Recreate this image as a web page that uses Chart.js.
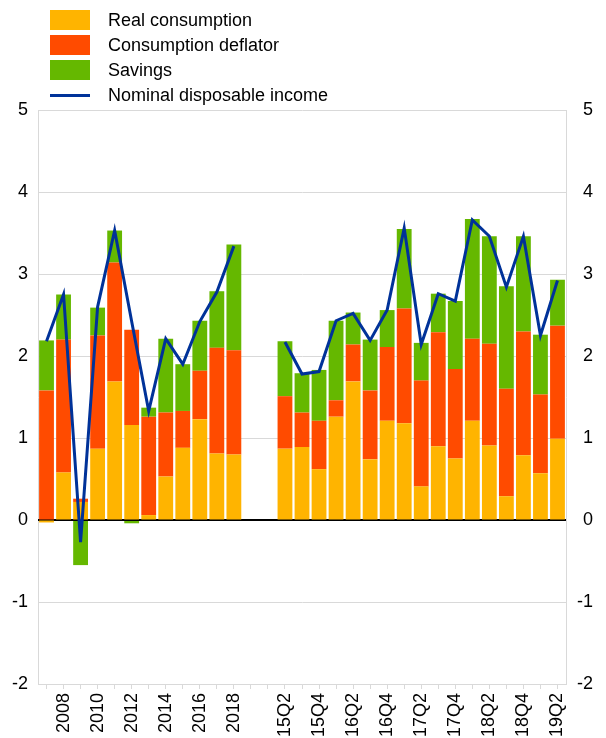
<!DOCTYPE html>
<html>
<head>
<meta charset="utf-8">
<script src="https://cdn.jsdelivr.net/npm/chart.js@4/dist/chart.umd.min.js"></script>
<style>
  body { margin: 0; background: #fff; }
  #wrap { position: relative; width: 606px; height: 738px; }
  #legend { position: absolute; left: 50px; top: 10px; font: 18px "Liberation Sans", Arial, sans-serif; color: #000; }
  .item { position: relative; height: 25px; }
  .swatch { position: absolute; left: 0; top: 0; width: 40px; height: 20px; }
  .swatch.line { top: 9px; height: 3px; }
  .label { position: absolute; left: 58px; top: 0; line-height: 20px; white-space: nowrap; }
</style>
</head>
<body>
<div id="wrap">
  <canvas id="chart" width="606" height="738"></canvas>
  <div id="legend"></div>
</div>
<script>
"use strict"

// år och kvartal, med två tomma platser emellan
const years = ['2007', '2008', '2009', '2010', '2011', '2012', '2013', '2014', '2015', '2016', '2017', '2018']
const quarters = ['15Q2', '15Q3', '15Q4', '16Q1', '16Q2', '16Q3', '16Q4', '17Q1', '17Q2', '17Q3', '17Q4', '18Q1', '18Q2', '18Q3', '18Q4', '19Q1', '19Q2']
const gap = ['', '']

// etiketter som syns på x-axeln
const tickLabels = ['2008', '2010', '2012', '2014', '2016', '2018', '15Q2', '15Q4', '16Q2', '16Q4', '17Q2', '17Q4', '18Q2', '18Q4', '19Q2']

// årsvärden
const realYear = [-0.03, 0.58, 0.22, 0.87, 1.69, 1.16, 0.06, 0.53, 0.88, 1.23, 0.81, 0.80]
const deflYear = [1.58, 1.62, 0.04, 1.38, 1.45, 1.16, 1.20, 0.78, 0.45, 0.59, 1.29, 1.27]
const saveYear = [0.61, 0.55, -0.55, 0.34, 0.39, -0.04, 0.11, 0.90, 0.57, 0.61, 0.69, 1.29]
const incomeYear = [2.18, 2.75, -0.27, 2.60, 3.53, 2.42, 1.33, 2.21, 1.90, 2.42, 2.78, 3.34]

// kvartalsvärden
const realQ = [0.87, 0.89, 0.62, 1.26, 1.69, 0.74, 1.21, 1.18, 0.41, 0.90, 0.75, 1.21, 0.91, 0.29, 0.79, 0.57, 0.99]
const deflQ = [0.64, 0.42, 0.59, 0.20, 0.45, 0.84, 0.90, 1.40, 1.29, 1.39, 1.09, 1.00, 1.24, 1.31, 1.51, 0.96, 1.38]
const saveQ = [0.67, 0.48, 0.62, 0.97, 0.39, 0.62, 0.45, 0.97, 0.46, 0.47, 0.83, 1.46, 1.31, 1.25, 1.16, 0.73, 0.56]
const incomeQ = [2.17, 1.78, 1.81, 2.43, 2.52, 2.19, 2.56, 3.56, 2.14, 2.76, 2.67, 3.66, 3.46, 2.84, 3.46, 2.25, 2.92]

const labels = years.concat(gap, quarters)
const withGap = (a, b) => a.concat(gap.map(() => null), b)

const font = { family: '"Liberation Sans", Arial, sans-serif', size: 18 }
Chart.defaults.color = '#000'
Chart.defaults.font.family = font.family

// nolllinjen ritas ovanpå staplarna men under linjen
const zeroLine = {
    id: 'zeroLine',
    afterDatasetDraw(chart, args) {
        if (args.index !== 2) return
        const y = chart.scales.y.getPixelForValue(0)
        const ctx = chart.ctx
        ctx.save()
        ctx.strokeStyle = '#000'
        ctx.lineWidth = 2
        ctx.beginPath()
        ctx.moveTo(chart.chartArea.left, y)
        ctx.lineTo(chart.chartArea.right, y)
        ctx.stroke()
        ctx.restore()
    }
}

const chart = new Chart(document.getElementById('chart'), {
    type: 'bar',
    data: {
        labels: labels,
        datasets: [
            { label: 'Real consumption', data: withGap(realYear, realQ), backgroundColor: '#ffb400', stack: 'a', order: 1 },
            { label: 'Consumption deflator', data: withGap(deflYear, deflQ), backgroundColor: '#ff4b00', stack: 'a', order: 1 },
            { label: 'Savings', data: withGap(saveYear, saveQ), backgroundColor: '#65b800', stack: 'a', order: 1 },
            { type: 'line', label: 'Nominal disposable income', data: withGap(incomeYear, incomeQ), borderColor: '#003299', backgroundColor: '#003299', borderWidth: 3, pointRadius: 0, tension: 0, stack: 'line', order: 0 }
        ]
    },
    options: {
        responsive: false,
        animation: false,
        barPercentage: 0.87,
        categoryPercentage: 1,
        layout: { padding: { top: 110, left: 0, right: 13, bottom: 0 } },
        plugins: { legend: { display: false }, tooltip: { enabled: false } },
        scales: {
            x: {
                stacked: true,
                grid: { drawOnChartArea: false, offset: false, tickLength: 5, color: '#d9d9d9' },
                border: { color: '#d9d9d9' },
                ticks: {
                    autoSkip: false, minRotation: 90, maxRotation: 90, padding: 4, font: font,
                    callback: function (value) {
                        const l = this.getLabelForValue(value)
                        return tickLabels.includes(l) ? l : ''
                    }
                },
                afterFit: s => { s.height = 54 }
            },
            y: {
                stacked: true,
                min: -2, max: 5,
                grid: { color: '#d9d9d9', drawTicks: false },
                border: { color: '#d9d9d9' },
                ticks: { stepSize: 1, padding: 10, font: font },
                afterFit: s => { s.width = 38 }
            },
            y2: {
                position: 'right',
                min: -2, max: 5,
                grid: { drawOnChartArea: false, drawTicks: false },
                border: { color: '#d9d9d9' },
                ticks: { stepSize: 1, padding: 11, crossAlign: 'far', font: font },
                afterFit: s => { s.width = 27 }
            }
        }
    },
    plugins: [zeroLine]
})

// html-förklaring byggd från dataseten
const legendEl = document.getElementById('legend')
chart.data.datasets.forEach(ds => {
    const item = document.createElement('div')
    item.className = 'item'
    const sw = document.createElement('div')
    sw.className = ds.type === 'line' ? 'swatch line' : 'swatch'
    sw.style.background = ds.type === 'line' ? ds.borderColor : ds.backgroundColor
    const txt = document.createElement('div')
    txt.className = 'label'
    txt.textContent = ds.label
    item.appendChild(sw)
    item.appendChild(txt)
    legendEl.appendChild(item)
})
</script>
</body>
</html>
